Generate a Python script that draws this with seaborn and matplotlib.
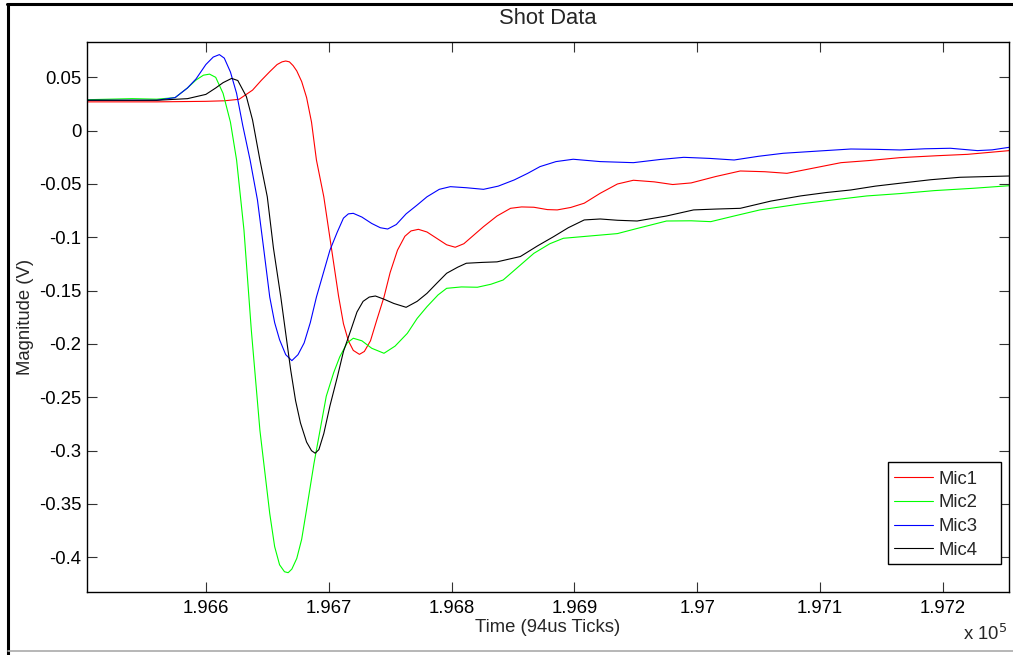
import numpy as np
import pandas as pd
import matplotlib
matplotlib.use("Agg")
import matplotlib.pyplot as plt
from matplotlib.lines import Line2D
from matplotlib.patches import Rectangle
import seaborn as sns

# ---------------- data (time in 94us ticks, magnitude in V) ----------------
mic1_t = [196503, 196560, 196600, 196615, 196627, 196638, 196645, 196652, 196658, 196662,
          196665, 196668, 196671, 196674, 196678, 196682, 196686, 196690, 196696, 196704,
          196708, 196712, 196716, 196720, 196725, 196729, 196734, 196739, 196745, 196750,
          196756, 196762, 196767, 196773, 196780, 196788, 196796, 196803, 196810, 196818,
          196826, 196837, 196848, 196857, 196867, 196878, 196886, 196897, 196908, 196921,
          196935, 196948, 196965, 196980, 196995, 197015, 197035, 197055, 197073, 197095,
          197117, 197140, 197165, 197195, 197220, 197254]
mic1_v = [0.027, 0.027, 0.0275, 0.028, 0.0294, 0.038, 0.047, 0.0553, 0.062, 0.0645,
          0.0653, 0.0645, 0.061, 0.056, 0.046, 0.031, 0.008, -0.0275, -0.062, -0.124,
          -0.155, -0.181, -0.197, -0.206, -0.2097, -0.207, -0.197, -0.178, -0.156, -0.133,
          -0.112, -0.099, -0.094, -0.0925, -0.095, -0.101, -0.107, -0.1093, -0.106, -0.098,
          -0.090, -0.080, -0.0728, -0.0715, -0.0718, -0.074, -0.0743, -0.072, -0.068, -0.0587,
          -0.050, -0.0465, -0.048, -0.0505, -0.049, -0.043, -0.0378, -0.0385, -0.040, -0.035,
          -0.030, -0.028, -0.0253, -0.0235, -0.0222, -0.0187]

mic2_t = [196503, 196540, 196560, 196575, 196585, 196592, 196598, 196603, 196608, 196614,
          196620, 196625, 196631, 196637, 196644, 196652, 196656, 196660, 196664, 196667,
          196670, 196674, 196678, 196682, 196688, 196698, 196704, 196709, 196715, 196720,
          196727, 196735, 196745, 196754, 196764, 196772, 196780, 196789, 196796, 196808,
          196821, 196832, 196842, 196855, 196867, 196880, 196891, 196913, 196935, 196950,
          196975, 196995, 197011, 197030, 197051, 197084, 197110, 197138, 197165, 197193,
          197225, 197254]
mic2_v = [0.029, 0.030, 0.0295, 0.031, 0.040, 0.0475, 0.052, 0.053, 0.050, 0.035,
          0.008, -0.0275, -0.093, -0.187, -0.281, -0.359, -0.390, -0.407, -0.4135, -0.4144,
          -0.411, -0.401, -0.383, -0.355, -0.312, -0.249, -0.227, -0.212, -0.199, -0.1946,
          -0.197, -0.204, -0.2087, -0.202, -0.19, -0.176, -0.165, -0.154, -0.1478, -0.1465,
          -0.1468, -0.144, -0.140, -0.127, -0.115, -0.106, -0.1009, -0.0987, -0.0965, -0.092,
          -0.0847, -0.0845, -0.0853, -0.080, -0.0743, -0.0687, -0.065, -0.0612, -0.0590, -0.0562,
          -0.054, -0.0516]

mic3_t = [196503, 196560, 196575, 196585, 196592, 196600, 196606, 196611, 196615, 196620,
          196625, 196630, 196636, 196642, 196647, 196652, 196656, 196660, 196665, 196670,
          196675, 196680, 196685, 196690, 196696, 196701, 196707, 196712, 196716, 196720,
          196727, 196735, 196742, 196748, 196755, 196763, 196772, 196780, 196790, 196799,
          196812, 196826, 196838, 196851, 196862, 196872, 196885, 196899, 196921, 196948,
          196970, 196989, 197010, 197030, 197050, 197070, 197100, 197125, 197145, 197165,
          197185, 197206, 197228, 197240, 197254]
mic3_v = [0.0285, 0.0285, 0.031, 0.040, 0.0485, 0.062, 0.069, 0.0713, 0.068, 0.055,
          0.035, 0.005, -0.0275, -0.065, -0.11, -0.156, -0.180, -0.196, -0.210, -0.2156,
          -0.210, -0.199, -0.180, -0.156, -0.132, -0.112, -0.095, -0.082, -0.078, -0.0775,
          -0.081, -0.087, -0.091, -0.0922, -0.088, -0.078, -0.0697, -0.062, -0.055, -0.0525,
          -0.0535, -0.055, -0.052, -0.0462, -0.040, -0.0337, -0.029, -0.0268, -0.029, -0.030,
          -0.027, -0.025, -0.026, -0.0275, -0.024, -0.0212, -0.019, -0.0172, -0.0175, -0.0181,
          -0.017, -0.0165, -0.0187, -0.018, -0.0156]

mic4_t = [196503, 196560, 196585, 196600, 196608, 196614, 196621, 196626, 196633, 196638,
          196644, 196650, 196655, 196661, 196669, 196673, 196677, 196682, 196686, 196689,
          196692, 196696, 196701, 196707, 196712, 196718, 196723, 196728, 196733, 196738,
          196745, 196753, 196763, 196772, 196780, 196788, 196796, 196805, 196812, 196825,
          196837, 196856, 196870, 196883, 196895, 196908, 196921, 196935, 196951, 196975,
          196997, 197015, 197035, 197060, 197084, 197105, 197125, 197145, 197165, 197190,
          197214, 197254]
mic4_v = [0.0285, 0.0285, 0.030, 0.034, 0.040, 0.045, 0.049, 0.047, 0.0319, 0.010,
          -0.0275, -0.062, -0.11, -0.156, -0.224, -0.253, -0.274, -0.292, -0.300, -0.3024,
          -0.299, -0.284, -0.258, -0.231, -0.207, -0.187, -0.170, -0.160, -0.156, -0.155,
          -0.158, -0.162, -0.1656, -0.160, -0.1525, -0.143, -0.1337, -0.128, -0.1243, -0.1235,
          -0.123, -0.118, -0.108, -0.0994, -0.091, -0.0837, -0.0828, -0.084, -0.0847, -0.080,
          -0.0743, -0.0735, -0.0728, -0.066, -0.0612, -0.058, -0.0556, -0.052, -0.0493, -0.046,
          -0.0437, -0.0425]

mic_names = ["Mic1", "Mic2", "Mic3", "Mic4"]
mic_colors = ["#ff0000", "#00ff00", "#0000ff", "#000000"]

x_ticks = [196600, 196700, 196800, 196900, 197000, 197100, 197200]
x_tick_labels = ["1.966", "1.967", "1.968", "1.969", "1.97", "1.971", "1.972"]
y_ticks = [0.05, 0, -0.05, -0.1, -0.15, -0.2, -0.25, -0.3, -0.35, -0.4]
y_tick_labels = ["0.05", "0", "-0.05", "-0.1", "-0.15", "-0.2", "-0.25", "-0.3", "-0.35", "-0.4"]

title = "Shot Data"
x_label = "Time (94us Ticks)"
y_label = "Magnitude (V)"

# ---------------- build long table ----------------
frames = []
for name, t, v in zip(mic_names, [mic1_t, mic2_t, mic3_t, mic4_t],
                      [mic1_v, mic2_v, mic3_v, mic4_v]):
    frames.append(pd.DataFrame({"Time": t, "Magnitude": v, "Mic": name}))
df = pd.concat(frames, ignore_index=True)

# ---------------- style ----------------
sns.set_theme(style="white")
plt.rcParams["font.family"] = ["Liberation Sans", "DejaVu Sans"]
plt.rcParams["axes.unicode_minus"] = False

W, H = 1013, 655
fig = plt.figure(figsize=(W / 100, H / 100), dpi=100)
fig.patch.set_facecolor("white")

ax_l, ax_r, ax_t, ax_b = 86.7, 1009.3, 41.7, 592.0
ax = fig.add_axes([ax_l / W, 1 - ax_b / H, (ax_r - ax_l) / W, (ax_b - ax_t) / H])

lw = 0.8
sns.lineplot(data=df, x="Time", y="Magnitude", hue="Mic", hue_order=mic_names,
             palette=dict(zip(mic_names, mic_colors)), estimator=None, sort=False,
             linewidth=lw, ax=ax, legend=False)

ax.set_xlim(196503, 197254)
ax.set_ylim(-0.4325, 0.0834)
ax.set_xticks(x_ticks)
ax.set_xticklabels(x_tick_labels)
ax.set_yticks(y_ticks)
ax.set_yticklabels(y_tick_labels)

fs = 13.3
ax.tick_params(axis="both", which="major", direction="in", length=7, width=0.8,
               color="#333333", labelsize=fs, labelcolor="black",
               top=True, right=True, bottom=True, left=True)
ax.tick_params(axis="x", pad=6)
ax.tick_params(axis="y", pad=4)
for s in ax.spines.values():
    s.set_visible(True)
    s.set_color("black")
    s.set_linewidth(1.0)

ax.set_xlabel("")
ax.set_ylabel("")
fig.text((ax_l + ax_r) / 2 / W, 1 - 19 / H, title, ha="center", va="center", fontsize=15.8)
fig.text((ax_l + ax_r) / 2 / W, 1 - 627 / H, x_label, ha="center", va="center", fontsize=fs)
fig.text(25 / W, 1 - 317 / H, y_label, ha="center", va="center", rotation=90, fontsize=fs)
fig.text(985 / W, 1 - 634 / H, r"x 10$^{5}$", ha="center", va="center", fontsize=fs)

# legend: frame drawn as a box at the reference position, entries placed inside
lg_l, lg_r, lg_t, lg_b = 887.7, 1000.7, 462.3, 564.0
def to_ax(px, py):
    return (px - ax_l) / (ax_r - ax_l), (ax_b - py) / (ax_b - ax_t)
bx0, by0 = to_ax(lg_l, lg_b)
bx1, by1 = to_ax(lg_r, lg_t)
ax.add_patch(Rectangle((bx0, by0), bx1 - bx0, by1 - by0, transform=ax.transAxes,
                       facecolor="white", edgecolor="black", lw=1.0, zorder=5))
handles = [Line2D([0], [0], color=c, lw=lw) for c in mic_colors]
leg = ax.legend(handles, mic_names, loc="upper left",
                bbox_to_anchor=to_ax(lg_l + 1, lg_t + 3),
                fontsize=fs, frameon=False,
                handlelength=2.1, handletextpad=0.3, labelspacing=0.36,
                borderpad=0.3, borderaxespad=0.0)
leg.set_zorder(6)

# screenshot frame lines
fig.add_artist(Line2D([8 / W, 8 / W], [0, 1 - 3.5 / H], color="black", lw=2.2,
                      transform=fig.transFigure))
fig.add_artist(Line2D([7 / W, 1], [1 - 3.5 / H, 1 - 3.5 / H], color="black", lw=2.2,
                      transform=fig.transFigure))
fig.add_artist(Line2D([8 / W, 1], [1 - 651 / H, 1 - 651 / H], color="#aaaaaa", lw=1.2,
                      transform=fig.transFigure))

fig.savefig("out.png", dpi=100, facecolor="white")
